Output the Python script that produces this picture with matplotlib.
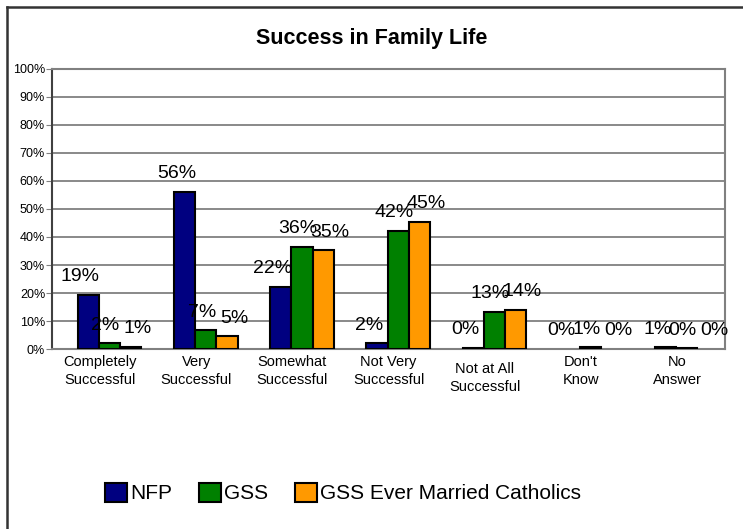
import matplotlib
matplotlib.use("Agg")
import matplotlib.pyplot as plt
from matplotlib.lines import Line2D
import numpy as np

plt.rcParams['font.family'] = ['Liberation Sans', 'DejaVu Sans']

# data (percent)
categories = ["Completely\nSuccessful", "Very\nSuccessful", "Somewhat\nSuccessful",
              "Not Very\nSuccessful", "Not at All\nSuccessful", "Don't\nKnow", "No\nAnswer"]
series_names = ["NFP", "GSS", "GSS Ever Married Catholics"]
nfp = [19.3, 56.0, 22.2, 2.1, 0.4, 0.0, 0.6]
gss = [2.1, 6.7, 36.4, 42.2, 13.4, 0.6, 0.3]
gss_catholics = [0.7, 4.6, 35.2, 45.3, 13.9, 0.0, 0.0]
y_ticks = [0, 10, 20, 30, 40, 50, 60, 70, 80, 90, 100]

colors = ["#000080", "#008000", "#FF9900"]
label_nudge = [-6, -3, 5]   # points, horizontal shift of value labels per series

fig = plt.figure(figsize=(7.43, 5.29), dpi=100)
ax = fig.add_axes([0.070, 0.340, 0.906, 0.530])

x = np.arange(len(categories))
w = 0.22
shift = 0.1
for i, vals in enumerate([nfp, gss, gss_catholics]):
    xs = x + shift + (i - 1) * w
    edges = ['black' if v > 0 else 'none' for v in vals]
    ax.bar(xs, vals, width=w, color=colors[i], edgecolor=edges, linewidth=1.5,
           label=series_names[i], zorder=3)
    for xi, v in zip(xs, vals):
        ax.annotate(f"{v:.0f}%", (xi, v), xytext=(label_nudge[i], 7),
                    textcoords='offset points', ha='center', va='bottom',
                    fontsize=14, zorder=4)

ax.set_xlim(-0.5, len(categories) - 0.5)
ax.set_ylim(0, 100)
ax.set_yticks(y_ticks)
ax.set_yticklabels([f"{t}%" for t in y_ticks], fontsize=9)
ax.set_xticks(x)
ax.set_xticklabels(categories, fontsize=10.5, linespacing=1.35)
ax.tick_params(axis='x', length=0, pad=4)
ax.tick_params(axis='y', length=4, color='#808080', pad=1)
# the "Not at All" label sits a little lower in the reference
ax.get_xticklabels()[4].set_y(-0.025)
ax.yaxis.grid(True, color='#808080', linewidth=1.3, zorder=0)
for s in ax.spines.values():
    s.set_color('#808080')
    s.set_linewidth(1.5)
ax.spines['left'].set_color('#404040')

fig.text(0.5, 0.928, "Success in Family Life", ha='center', va='center',
         fontsize=15.5, fontweight='bold')

fig.legend(loc='center', bbox_to_anchor=(0.462, 0.068), ncol=3, frameon=False,
           fontsize=15, handlelength=1.05, handleheight=1.05, handletextpad=0.15,
           columnspacing=1.3)

# outer chart frame (only top and left visible in the crop)
fig.add_artist(Line2D([7 / 743, 1.0], [1 - 7 / 529, 1 - 7 / 529], color='#333333',
                      linewidth=1.8, transform=fig.transFigure))
fig.add_artist(Line2D([7 / 743, 7 / 743], [1 - 7 / 529, 0.0], color='#333333',
                      linewidth=1.8, transform=fig.transFigure))

fig.savefig("out.png", dpi=100)
